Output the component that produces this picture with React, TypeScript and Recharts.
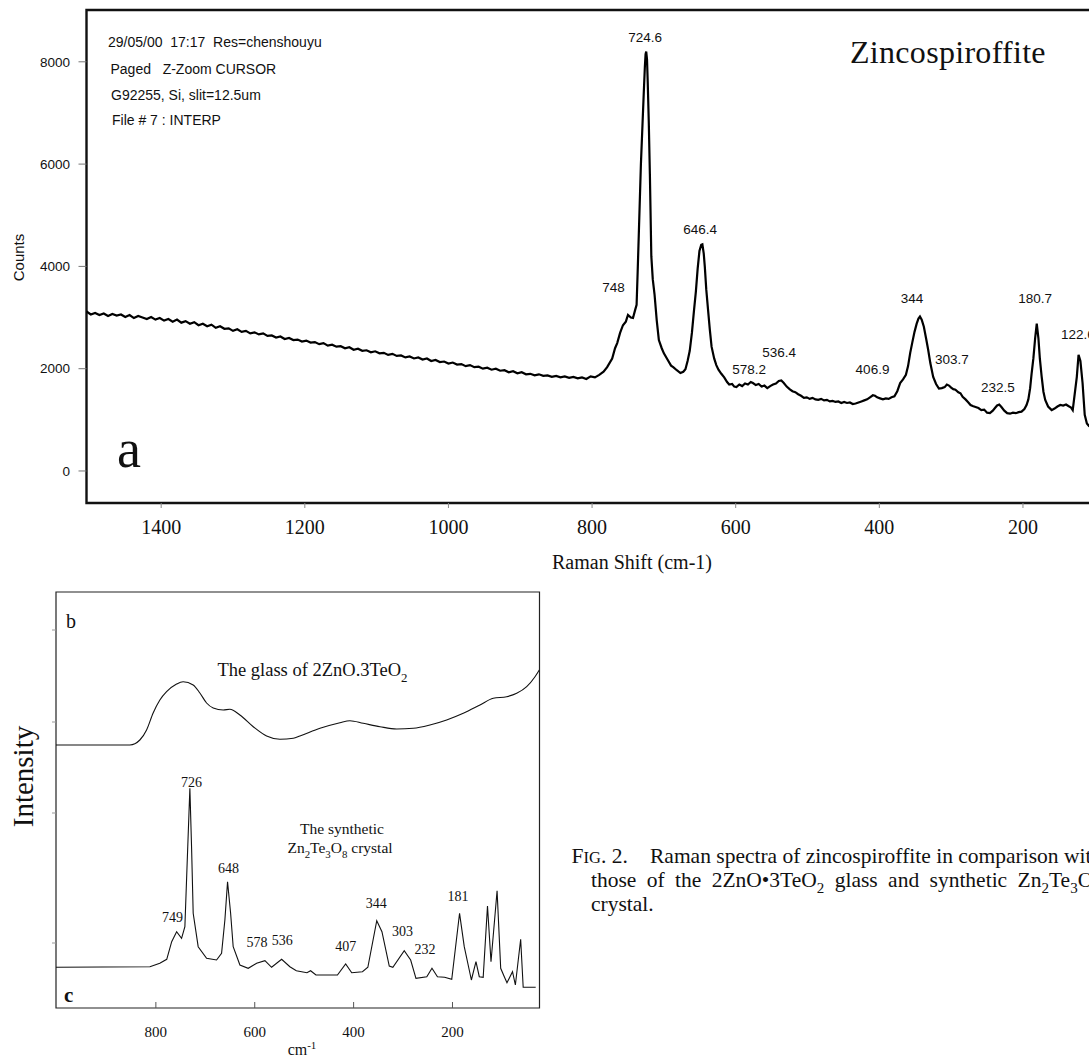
import React from 'react';
import { ComposedChart, Line, XAxis, YAxis, Scatter, ReferenceArea } from 'recharts';

const SERIF = '"Liberation Serif", "Times New Roman", serif';
const SANS = '"Liberation Sans", Arial, sans-serif';

// ---------- (a) Zincospiroffite spectrum: [Raman shift (cm-1), counts] ----------
const zincospiroffite: [number, number][] = [
  [1504, 3120], [1498, 3060], [1492, 3090], [1486, 3050], [1480, 3080], [1474, 3030], [1468, 3070],
  [1462, 3040], [1456, 3060], [1450, 3010], [1444, 3050], [1438, 2990], [1432, 3030], [1426, 3000],
  [1420, 2970], [1414, 3010], [1408, 2960], [1402, 2990], [1396, 2940], [1390, 2970], [1384, 2920],
  [1378, 2960], [1372, 2900], [1366, 2930], [1360, 2880], [1354, 2910], [1348, 2850], [1342, 2880],
  [1336, 2830], [1330, 2860], [1324, 2800], [1318, 2830], [1312, 2780], [1306, 2790], [1300, 2740],
  [1294, 2770], [1288, 2720], [1282, 2740], [1276, 2690], [1270, 2710], [1264, 2670], [1258, 2690],
  [1252, 2640], [1246, 2650], [1240, 2610], [1234, 2630], [1228, 2580], [1222, 2600], [1216, 2560],
  [1210, 2570], [1204, 2530], [1198, 2550], [1192, 2510], [1186, 2520], [1180, 2480], [1174, 2500],
  [1168, 2450], [1162, 2470], [1156, 2430], [1150, 2440], [1144, 2400], [1138, 2420], [1132, 2370],
  [1126, 2390], [1120, 2350], [1114, 2360], [1108, 2320], [1102, 2340], [1096, 2300], [1090, 2310],
  [1084, 2270], [1078, 2290], [1072, 2250], [1066, 2260], [1060, 2220], [1054, 2240], [1048, 2200],
  [1042, 2220], [1036, 2180], [1030, 2200], [1024, 2150], [1018, 2170], [1012, 2130], [1006, 2140],
  [1000, 2100], [994, 2120], [988, 2080], [982, 2090], [976, 2050], [970, 2070], [964, 2030],
  [958, 2040], [952, 2000], [946, 2020], [940, 1980], [934, 2000], [928, 1960], [922, 1970],
  [916, 1930], [910, 1950], [904, 1910], [898, 1930], [892, 1890], [886, 1900], [880, 1870],
  [874, 1890], [868, 1860], [862, 1870], [856, 1840], [850, 1860], [844, 1830], [838, 1850],
  [832, 1820], [826, 1840], [820, 1810], [814, 1830], [808, 1800], [802, 1850], [796, 1830],
  [790, 1880], [784, 1940], [779, 2030], [772, 2200], [768, 2400], [765, 2500], [761, 2700],
  [757, 2850], [753, 2920], [750, 3050], [746, 3000], [743, 2990], [740, 3150], [738, 3250],
  [736.5, 3900], [735, 4600], [733.5, 5300], [732, 6000], [730, 6700], [728, 7400], [726.5, 7900],
  [725.5, 8150], [724.6, 8200], [723.5, 8050], [722.5, 7600], [721, 6800], [719.5, 5800],
  [718.5, 5000], [717.5, 4200], [715.5, 3750], [713, 3450], [710, 2950], [707, 2560], [703, 2400],
  [700, 2300], [695, 2180], [690, 2060], [687, 2030], [682, 1970], [677, 1915], [673, 1940],
  [670, 1990], [667, 2150], [664, 2350], [661, 2700], [658, 3150], [655.5, 3500], [653, 3950],
  [650.5, 4300], [648, 4420], [646.4, 4430], [644.5, 4250], [643, 3990], [641, 3550], [638.5, 3150],
  [636, 2760], [633.6, 2430], [630, 2200], [627, 2070], [624, 1980], [620, 1900], [616, 1830],
  [612, 1740], [609, 1690], [605, 1700], [602, 1650], [599, 1640], [595, 1690], [591, 1660],
  [587, 1710], [583, 1690], [579, 1740], [576, 1720], [572, 1680], [568, 1700], [564, 1650],
  [560, 1670], [556, 1620], [552, 1660], [548, 1690], [544, 1710], [540, 1760], [536.5, 1770],
  [533, 1720], [529, 1650], [525, 1600], [521, 1560], [517, 1540], [513, 1500], [509, 1470],
  [505, 1430], [501, 1440], [497, 1410], [493, 1430], [489, 1400], [485, 1390], [481, 1410],
  [477, 1380], [473, 1390], [469, 1360], [465, 1370], [461, 1350], [457, 1360], [453, 1330],
  [449, 1350], [445, 1330], [441, 1340], [437, 1310], [433, 1320], [429, 1340], [425, 1360],
  [421, 1380], [417, 1400], [413, 1440], [409, 1480], [406, 1470], [403, 1440], [399, 1420],
  [395, 1400], [391, 1420], [387, 1410], [383, 1440], [379, 1460], [375, 1560], [371, 1720],
  [367, 1790], [363, 1880], [360, 2050], [357, 2310], [354, 2520], [351, 2720], [348, 2880],
  [345.5, 2980], [343.4, 3020], [341, 2960], [338, 2820], [335, 2600], [332, 2370], [329, 2110],
  [325, 1840], [321, 1700], [317, 1610], [313, 1620], [309, 1640], [306, 1690], [303, 1670],
  [300, 1630], [297, 1600], [294, 1590], [290, 1540], [287, 1520], [284, 1450], [280, 1400],
  [276, 1340], [273, 1290], [270, 1270], [266, 1250], [262, 1230], [258, 1190], [254, 1200],
  [250, 1140], [246, 1130], [242, 1180], [239, 1230], [236, 1280], [233, 1300], [230, 1250],
  [226, 1180], [222, 1130], [218, 1120], [214, 1140], [210, 1130], [206, 1150], [202, 1160],
  [198, 1210], [195, 1290], [192.5, 1400], [190, 1620], [188, 1900], [185.5, 2200], [183, 2600],
  [180.8, 2880], [178.5, 2600], [176.5, 2200], [174, 1850], [171.5, 1550], [169, 1390], [165, 1260],
  [160, 1190], [156, 1220], [152, 1260], [148, 1290], [144, 1280], [140, 1300], [136.8, 1270],
  [133, 1240], [130.7, 1190], [128, 1500], [125, 1840], [122.6, 2270], [120, 2150], [117, 1720],
  [114, 1100], [111, 930], [108, 880], [104, 860], [96, 850], [80, 860], [60, 850],
];

// peak labels of (a): [label anchor shift, label anchor counts, text]
const aPeakLabels: [number, number, string][] = [
  [726.2, 8485, '724.6'], [649.6, 4731, '646.4'], [770, 3597, '748'], [581.4, 1975, '578.2'],
  [539.6, 2326, '536.4'], [409.5, 1975, '406.9'], [354.5, 3363, '344'], [298.8, 2170, '303.7'],
  [234.8, 1642, '232.5'], [183.2, 3363, '180.7'], [123.4, 2659, '122.6'],
];

const aXTicks = [1400, 1200, 1000, 800, 600, 400, 200];
const aYTicks = [0, 2000, 4000, 6000, 8000];
const aXDomain: [number, number] = [60, 1504];
const aYDomain: [number, number] = [-626, 9013];

// ---------- (b) glass 2ZnO.3TeO2 and (c) synthetic Zn2Te3O8: [shift, intensity (a.u.)] ----------
const glass: [number, number][] = [
  [1002, 263], [852.6, 263], [832.4, 268], [818.8, 278], [805.5, 295], [791.9, 308], [778.3, 316.3],
  [758.1, 324], [744.8, 326.3], [724.5, 323], [711, 315], [697.4, 305], [684, 300], [663.8, 298],
  [650.3, 298.7], [630, 293], [603, 281.3], [576, 272], [549, 268.7], [522, 269.7], [508.6, 272],
  [468, 279.7], [427.7, 285.3], [407.4, 287.3], [380.5, 284.7], [346.7, 281.3], [313, 279],
  [279.4, 279.7], [245.6, 283], [211.8, 288], [178.2, 294.7], [144.4, 303], [117.5, 309.7],
  [90.4, 311.3], [70.1, 314.7], [49.9, 321.3], [33.1, 331.3], [24.4, 338],
];

const crystal: [number, number][] = [
  [1002, 40.7], [812, 41.3], [792, 44.7], [778, 48.7], [768, 66.3], [758, 76.3], [748, 69.7],
  [741.3, 81.3], [736.7, 145], [731.2, 219.7], [727.8, 161.3], [724.5, 94.7], [714.4, 61.3],
  [697.4, 49.7], [677.2, 48], [667.1, 54.7], [660.4, 88], [655, 126.3], [648.8, 94.7], [643.6, 61.3],
  [630, 43], [613.2, 39.7], [596.2, 44.7], [579.4, 47.3], [565.9, 40.7], [545.6, 48.7], [528.9, 41.3],
  [515.9, 37.3], [494.4, 35.3], [487, 37.3], [476.2, 33], [432.7, 33], [416.1, 44], [403.8, 35.3],
  [382.1, 36.3], [371.2, 40.7], [353.2, 87.3], [342.7, 76.3], [327.9, 42], [320.6, 40.7],
  [297.6, 57.3], [284.6, 48], [273.9, 29.7], [252, 31.3], [241.5, 39.7], [230.4, 31.3], [216, 30.7],
  [201.5, 28.7], [185.7, 94.7], [176.2, 61.3], [161.8, 28], [152.5, 46.3], [145.8, 31.3],
  [137.9, 30.7], [129.2, 102], [122.1, 46.3], [109.8, 117.3], [102.5, 39.7], [95.2, 31.3],
  [89.8, 25.3], [78.6, 36.3], [72.8, 23], [62.1, 68.7], [57, 20.7], [31.7, 20.7],
];

const cPeakLabels: [number, number, string][] = [
  [727.8, 225.7, '726'], [652.9, 139.7, '648'], [766.2, 90.7, '749'], [595.6, 65.5, '578'],
  [544.4, 68, '536'], [416, 62, '407'], [354.2, 104.7, '344'], [301.2, 76.3, '303'],
  [255.7, 59, '232'], [188.7, 111.3, '181'],
];

const bXTicks = [800, 600, 400, 200];
const bYTicks = [65, 195, 286, 378];
const bXDomain: [number, number] = [24, 1002];
const bYDomain: [number, number] = [0, 416];

// ---------- build tables ----------
const aData = zincospiroffite.map(([shift, v]) => ({ shift, v }));
const aLabels = aPeakLabels.map(([shift, y, text]) => ({ shift, y, text }));
const glassData = glass.map(([shift, v]) => ({ shift, v }));
const crystalData = crystal.map(([shift, v]) => ({ shift, v }));
const cLabels = cPeakLabels.map(([shift, y, text]) => ({ shift, y, text }));

const textShape = (family: string, size: number) => (p: any) => (
  <text
    x={p.cx}
    y={p.cy}
    textAnchor="middle"
    dominantBaseline="central"
    fontFamily={family}
    fontSize={size}
    fill="#111"
  >
    {p.payload.text}
  </text>
);

const Sub = ({ children, size }: { children: React.ReactNode; size: number }) => (
  <tspan dy={size * 0.3} fontSize={size * 0.7}>{children}</tspan>
);

const NB = '\u00A0';

export default function App() {
  return (
    <div
      style={{
        position: 'absolute',
        left: 0,
        top: 0,
        width: 1089,
        height: 1061,
        overflow: 'hidden',
        background: '#fff',
      }}
    >
      {/* (a) */}
      <div style={{ position: 'absolute', left: 0, top: 0 }}>
        <ComposedChart width={1140} height={600} margin={{ top: 10, right: 16.5, bottom: 0, left: 0 }}>
          <XAxis
            type="number"
            dataKey="shift"
            domain={aXDomain}
            reversed
            allowDataOverflow
            ticks={aXTicks}
            height={97}
            axisLine={false}
            tickSize={5}
            tickMargin={12}
            tickLine={{ stroke: '#888', strokeWidth: 1 }}
            tick={{ fontFamily: SERIF, fontSize: 20, fill: '#111' }}
          />
          <YAxis
            type="number"
            domain={aYDomain}
            allowDataOverflow
            ticks={aYTicks}
            width={86.5}
            axisLine={false}
            tickSize={8}
            tickMargin={8.5}
            tickLine={{ stroke: '#777', strokeWidth: 1 }}
            tick={{ fontFamily: SANS, fontSize: 13.5, fill: '#111' }}
          />
          <ReferenceArea
            x1={aXDomain[0]}
            x2={aXDomain[1]}
            y1={aYDomain[0]}
            y2={aYDomain[1]}
            fill="none"
            stroke="#111"
            strokeWidth={2.4}
            fillOpacity={0}
          />
          <Line
            data={aData}
            dataKey="v"
            type="linear"
            stroke="#000"
            strokeWidth={2.2}
            dot={false}
            isAnimationActive={false}
          />
          <Scatter data={aLabels} dataKey="y" shape={textShape(SANS, 13.5)} isAnimationActive={false} />
        </ComposedChart>
      </div>

      {/* (b) and (c) */}
      <div style={{ position: 'absolute', left: 0, top: 560 }}>
        <ComposedChart width={560} height={500} margin={{ top: 32, right: 20.5, bottom: 0, left: 0 }}>
          <XAxis
            type="number"
            dataKey="shift"
            domain={bXDomain}
            reversed
            allowDataOverflow
            ticks={bXTicks}
            height={52}
            axisLine={false}
            tickSize={-6}
            tickMargin={24}
            tickLine={{ stroke: '#555', strokeWidth: 1 }}
            tick={{ fontFamily: SERIF, fontSize: 15, fill: '#111' }}
          />
          <YAxis
            type="number"
            domain={bYDomain}
            allowDataOverflow
            ticks={bYTicks}
            width={56}
            axisLine={false}
            tickSize={4}
            tickLine={{ stroke: '#999', strokeWidth: 1 }}
            tickFormatter={() => ''}
          />
          <ReferenceArea
            x1={bXDomain[0]}
            x2={bXDomain[1]}
            y1={bYDomain[0]}
            y2={bYDomain[1]}
            fill="none"
            fillOpacity={0}
            stroke="#222"
            strokeWidth={1.2}
          />
          <Line
            data={glassData}
            dataKey="v"
            type="monotone"
            stroke="#111"
            strokeWidth={1.1}
            dot={false}
            isAnimationActive={false}
          />
          <Line
            data={crystalData}
            dataKey="v"
            type="linear"
            stroke="#111"
            strokeWidth={1.1}
            dot={false}
            isAnimationActive={false}
          />
          <Scatter data={cLabels} dataKey="y" shape={textShape(SERIF, 14)} isAnimationActive={false} />
        </ComposedChart>
      </div>

      {/* annotations */}
      <svg
        width={1089}
        height={1061}
        style={{ position: 'absolute', left: 0, top: 0, pointerEvents: 'none' }}
      >
        <g fontFamily={SANS} fontSize={14} fill="#111">
          <text x={108} y={47}>{`29/05/00${NB}${NB}17:17${NB}${NB}Res=chenshouyu`}</text>
          <text x={110.5} y={74}>{`Paged${NB}${NB}${NB}Z-Zoom CURSOR`}</text>
          <text x={111} y={100}>G92255, Si, slit=12.5um</text>
          <text x={112} y={125}>File # 7 : INTERP</text>
        </g>
        <text x={850} y={63} fontFamily={SERIF} fontSize={32} letterSpacing={0.3} fill="#111">
          Zincospiroffite
        </text>
        <text x={117} y={467} fontFamily={SERIF} fontSize={54} fill="#111">a</text>
        <text
          x={18}
          y={257.5}
          transform="rotate(-90 18 257.5)"
          textAnchor="middle"
          dominantBaseline="central"
          fontFamily={SANS}
          fontSize={15}
          fill="#111"
        >
          Counts
        </text>
        <text x={632} y={569} textAnchor="middle" fontFamily={SERIF} fontSize={20} fill="#111">
          Raman Shift (cm-1)
        </text>

        <text x={66} y={628} fontFamily={SERIF} fontSize={20} fill="#111">b</text>
        <text x={64} y={1002} fontFamily={SERIF} fontSize={21} fontWeight="bold" fill="#111">c</text>
        <text
          x={22.5}
          y={776.5}
          transform="rotate(-90 22.5 776.5)"
          textAnchor="middle"
          dominantBaseline="central"
          fontFamily={SERIF}
          fontSize={29}
          fill="#111"
        >
          Intensity
        </text>
        <text x={312.5} y={676} textAnchor="middle" fontFamily={SERIF} fontSize={18.5} fill="#111">
          The glass of 2ZnO.3TeO<Sub size={18.5}>2</Sub>
        </text>
        <text x={342} y={834} textAnchor="middle" fontFamily={SERIF} fontSize={15.5} fill="#111">
          The synthetic
        </text>
        <text x={340} y={853} textAnchor="middle" fontFamily={SERIF} fontSize={15.5} fill="#111">
          Zn<Sub size={15.5}>2</Sub>
          <tspan dy={-4.65}>Te</tspan>
          <Sub size={15.5}>3</Sub>
          <tspan dy={-4.65}>O</tspan>
          <Sub size={15.5}>8</Sub>
          <tspan dy={-4.65}> crystal</tspan>
        </text>
        <text x={302} y={1055} textAnchor="middle" fontFamily={SERIF} fontSize={16} fill="#111">
          cm<tspan dy={-6} fontSize={11}>-1</tspan>
        </text>

        <g fontFamily={SERIF} fontSize={21.5} fill="#111">
          <text x={571.5} y={863}>
            F<tspan fontSize={16.5}>IG</tspan>. 2.
          </text>
          <text x={650} y={863}>Raman spectra of zincospiroffite in comparison with</text>
          <text x={591} y={887} wordSpacing={5}>
            those of the 2ZnO•3TeO<Sub size={21.5}>2</Sub>
            <tspan dy={-6.45}> glass and synthetic Zn</tspan>
            <Sub size={21.5}>2</Sub>
            <tspan dy={-6.45}>Te</tspan>
            <Sub size={21.5}>3</Sub>
            <tspan dy={-6.45}>O</tspan>
            <Sub size={21.5}>8</Sub>
          </text>
          <text x={591} y={911}>crystal.</text>
        </g>
      </svg>
    </div>
  );
}
